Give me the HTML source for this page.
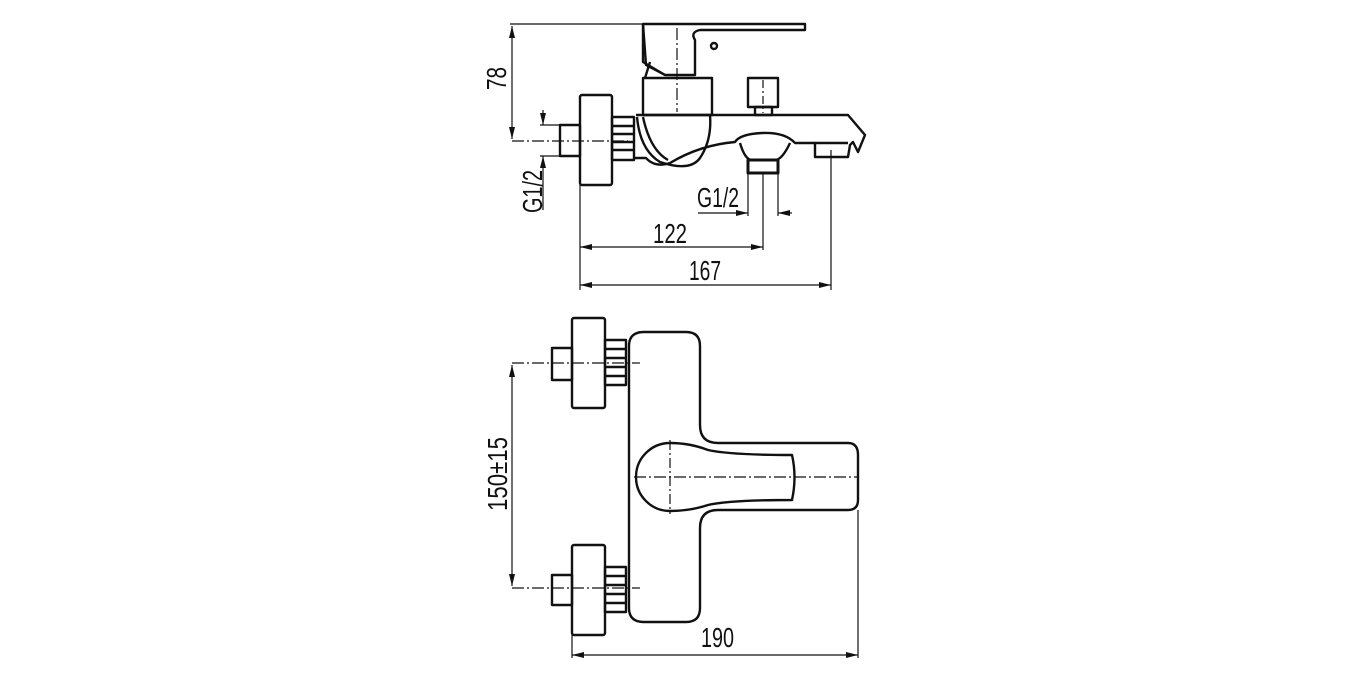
<!DOCTYPE html>
<html><head><meta charset="utf-8"><style>
html,body{margin:0;padding:0;background:#fff}
svg{display:block}
text{font-family:"Liberation Sans Narrow","Liberation Sans",sans-serif;font-size:28px;fill:#111}
</style></head><body>
<svg width="1366" height="678" viewBox="0 0 1366 678" xmlns="http://www.w3.org/2000/svg">
<defs>
<marker id="a" viewBox="0 0 12 6" refX="12" refY="3" markerWidth="12" markerHeight="6" orient="auto-start-reverse" markerUnits="userSpaceOnUse"><path d="M0,0 L12,3 L0,6 z" fill="#111"/></marker>
</defs>
<g fill="none" stroke="#111" stroke-width="2.4" stroke-linejoin="round">
<path d="M643,24 H805 V30 H700 Q690,32 695,40 V75 H665 L646,65 Z" fill="#fff"/>
<path d="M643,24 V62 L665,75"/>
<path d="M650,62 L645,78"/>
<circle cx="714" cy="46" r="3"/>
<rect x="643" y="78" width="69" height="37" fill="#fff"/>
<path d="M636,115 H848 L865,135 L858,152 L853,142 L850,145 L848,157 H815 V143 H795 Q785,132 762,133 Q740,134 735,142 Q700,145 670,163 Q655,168 646,158 H634"/>
<path d="M637,117 Q640,150 660,162 Q690,172 700,158 Q712,140 710,115"/>
<path d="M643,117 Q650,150 668,160"/>
<path d="M740,143 Q745,160 752,160 H775 Q782,160 790,143"/>
<path d="M815,143 H848"/>
<rect x="748" y="78" width="30" height="29" fill="#fff"/>
<rect x="755" y="107" width="17" height="8"/>
<rect x="748" y="160" width="30" height="13" stroke-width="3"/>
<rect x="580" y="95" width="32" height="90" rx="2" fill="#fff"/>
<rect x="560" y="125" width="20" height="31"/>
<rect x="612" y="117" width="22" height="43"/>
<path d="M612,126 H634 M612,134 H634 M612,142 H634 M612,150 H634"/>
</g>
<g fill="none" stroke="#111" stroke-width="1.2">
<path d="M512,141 H628" stroke-dasharray="12,3,2,3"/>
<path d="M677,28 V112" stroke-dasharray="12,3,2,3"/>
<path d="M763,80 V113" stroke-dasharray="8,3,2,3"/>
<path d="M510,24 H643"/>
<path d="M512,26 V139" marker-start="url(#a)" marker-end="url(#a)"/>
<path d="M540,125 H560 M540,156 H560"/>
<path d="M543,110 V125" marker-end="url(#a)"/>
<path d="M543,210 V156" marker-end="url(#a)"/>
<path d="M748,173 V216 M763,173 V250 M778,173 V216 M831,150 V290 M580,185 V290"/>
<path d="M698,213 H748" marker-end="url(#a)"/>
<path d="M792,213 H778" marker-end="url(#a)"/>
<path d="M580,247 H763" marker-start="url(#a)" marker-end="url(#a)"/>
<path d="M580,285 H831" marker-start="url(#a)" marker-end="url(#a)"/>
</g>
<text x="697" y="207" textLength="42" lengthAdjust="spacingAndGlyphs">G1/2</text>
<text x="653" y="243" textLength="34" lengthAdjust="spacingAndGlyphs">122</text>
<text x="689" y="280" textLength="32" lengthAdjust="spacingAndGlyphs">167</text>
<text transform="translate(506,90) rotate(-90)" textLength="23" lengthAdjust="spacingAndGlyphs">78</text>
<text transform="translate(542,213) rotate(-90)" textLength="43" lengthAdjust="spacingAndGlyphs">G1/2</text>

<g fill="none" stroke="#111" stroke-width="2.4" stroke-linejoin="round">
<path d="M644,332 H686 Q700,332 700,346 V425 Q700,443 718,443 H848 Q858,443 858,455 V500 Q858,510 848,510 H718 Q700,510 700,528 V608 Q700,622 686,622 H644 Q629,622 629,608 V346 Q629,332 644,332 Z"/>
<path d="M670,443 Q690,443 708,450 Q730,455 792,455 Q797,477 792,500 Q730,500 708,505 Q690,511 670,511 A34,34 0 0 1 670,443 Z"/>
<rect x="572" y="318" width="33" height="90" rx="2" fill="#fff"/>
<rect x="552" y="348" width="20" height="32"/>
<rect x="605" y="340" width="21" height="45"/>
<path d="M605,349 H626 M605,358 H626 M605,367 H626 M605,376 H626"/>
<rect x="572" y="545" width="33" height="90" rx="2" fill="#fff"/>
<rect x="552" y="575" width="20" height="30"/>
<rect x="605" y="567" width="21" height="45"/>
<path d="M605,576 H626 M605,585 H626 M605,594 H626 M605,603 H626"/>
</g>
<g fill="none" stroke="#111" stroke-width="1.2">
<path d="M512,363 H640" stroke-dasharray="12,3,2,3"/>
<path d="M512,588 H640" stroke-dasharray="12,3,2,3"/>
<path d="M634,477 H858" stroke-dasharray="12,3,2,3"/>
<path d="M670,440 V514" stroke-dasharray="10,3,2,3"/>
<path d="M512,365 V586" marker-start="url(#a)" marker-end="url(#a)"/>
<path d="M572,635 V658 M858,510 V658"/>
<path d="M572,655 H858" marker-start="url(#a)" marker-end="url(#a)"/>
</g>
<text x="701" y="647" textLength="33" lengthAdjust="spacingAndGlyphs">190</text>
<text transform="translate(507,511) rotate(-90)" textLength="74" lengthAdjust="spacingAndGlyphs">150±15</text>
</svg>
</body></html>
